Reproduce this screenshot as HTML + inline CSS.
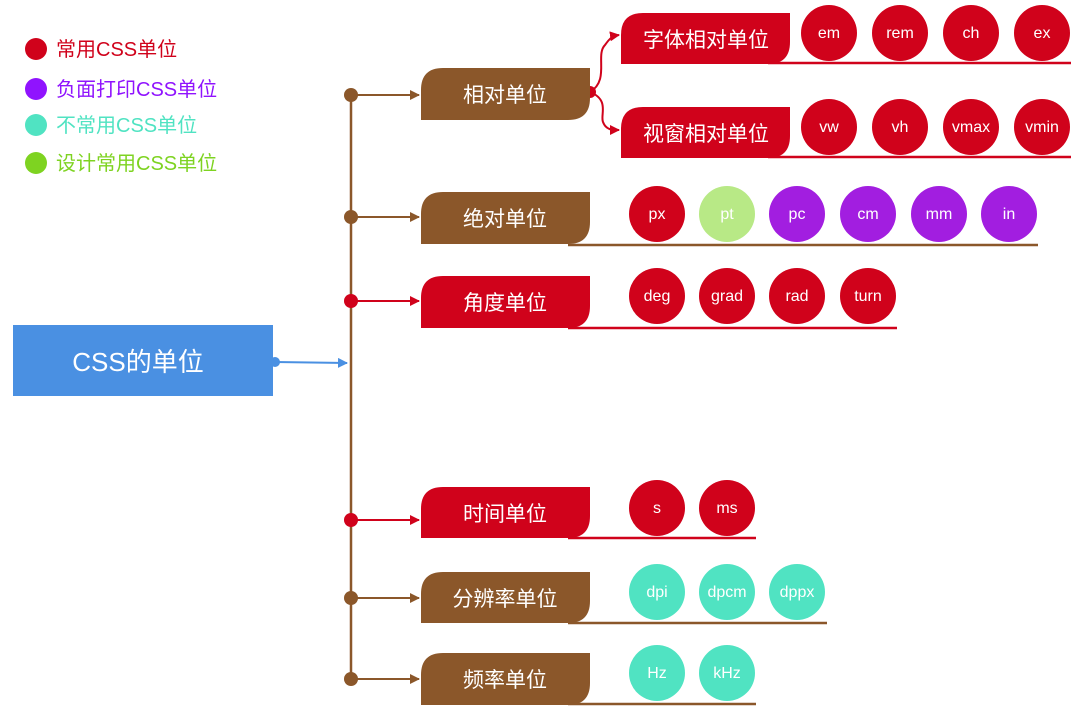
<!DOCTYPE html>
<html><head><meta charset="utf-8"><style>
body{margin:0;background:#fff}
text{font-family:"Liberation Sans","Noto Sans CJK SC",sans-serif}
</style></head><body>
<svg width="1080" height="720" viewBox="0 0 1080 720" xmlns="http://www.w3.org/2000/svg">
<defs>
<marker id="ab" markerWidth="10" markerHeight="10" refX="9" refY="5" orient="auto" markerUnits="userSpaceOnUse"><path d="M0,0 L10,5 L0,10Z" fill="#8b572a"/></marker>
<marker id="ar" markerWidth="10" markerHeight="10" refX="9" refY="5" orient="auto" markerUnits="userSpaceOnUse"><path d="M0,0 L10,5 L0,10Z" fill="#d0021b"/></marker>
<marker id="al" markerWidth="10" markerHeight="10" refX="9" refY="5" orient="auto" markerUnits="userSpaceOnUse"><path d="M0,0 L10,5 L0,10Z" fill="#4a90e2"/></marker>
</defs>
<!-- legend -->
<g font-size="20">
<circle cx="36" cy="49" r="11" fill="#d0021b"/><text x="56" y="56" fill="#d0021b">常用CSS单位</text>
<circle cx="36" cy="89" r="11" fill="#9013fe"/><text x="56" y="96" fill="#9013fe">负面打印CSS单位</text>
<circle cx="36" cy="125" r="11" fill="#50e3c2"/><text x="56" y="132" fill="#50e3c2">不常用CSS单位</text>
<circle cx="36" cy="163" r="11" fill="#7ed321"/><text x="56" y="170" fill="#7ed321">设计常用CSS单位</text>
</g>
<!-- root -->
<rect x="13" y="325" width="260" height="71" fill="#4a90e2"/>
<text x="138" y="371" font-size="26" fill="#fff" text-anchor="middle">CSS的单位</text>
<circle cx="275" cy="362" r="5" fill="#4a90e2"/>
<line x1="275" y1="362" x2="347" y2="363" stroke="#4a90e2" stroke-width="2" marker-end="url(#al)"/>
<!-- trunk -->
<line x1="351" y1="95" x2="351" y2="680" stroke="#8b572a" stroke-width="2.5"/>
<g stroke-width="2">
<line x1="351" y1="95" x2="419" y2="95" stroke="#8b572a" marker-end="url(#ab)"/>
<line x1="351" y1="217" x2="419" y2="217" stroke="#8b572a" marker-end="url(#ab)"/>
<line x1="351" y1="301" x2="419" y2="301" stroke="#d0021b" marker-end="url(#ar)"/>
<line x1="351" y1="520" x2="419" y2="520" stroke="#d0021b" marker-end="url(#ar)"/>
<line x1="351" y1="598" x2="419" y2="598" stroke="#8b572a" marker-end="url(#ab)"/>
<line x1="351" y1="679" x2="419" y2="679" stroke="#8b572a" marker-end="url(#ab)"/>
</g>
<circle cx="351" cy="95" r="7" fill="#8b572a"/>
<circle cx="351" cy="217" r="7" fill="#8b572a"/>
<circle cx="351" cy="301" r="7" fill="#d0021b"/>
<circle cx="351" cy="520" r="7" fill="#d0021b"/>
<circle cx="351" cy="598" r="7" fill="#8b572a"/>
<circle cx="351" cy="679" r="7" fill="#8b572a"/>
<!-- wavy connectors -->
<circle cx="590" cy="92" r="6" fill="#d0021b"/>
<path d="M590,92 C610,80 595,55 605,45 C610,38 612,36 619,35" fill="none" stroke="#d0021b" stroke-width="2" marker-end="url(#ar)"/>
<path d="M590,92 C610,100 600,115 603,122 C606,130 612,130 619,130" fill="none" stroke="#d0021b" stroke-width="2" marker-end="url(#ar)"/>
<!-- level boxes -->
<g font-size="21" fill="#fff" text-anchor="middle">
<path d="M443,68 H590 V98 Q590,120 568,120 H421 V90 Q421,68 443,68Z" fill="#8b572a"/><text x="505" y="102">相对单位</text>
<path d="M443,192 H590 V222 Q590,244 568,244 H421 V214 Q421,192 443,192Z" fill="#8b572a"/><text x="505" y="226">绝对单位</text>
<path d="M443,276 H590 V306 Q590,328 568,328 H421 V298 Q421,276 443,276Z" fill="#d0021b"/><text x="505" y="310">角度单位</text>
<path d="M443,487 H590 V516 Q590,538 568,538 H421 V509 Q421,487 443,487Z" fill="#d0021b"/><text x="505" y="521">时间单位</text>
<path d="M443,572 H590 V601 Q590,623 568,623 H421 V594 Q421,572 443,572Z" fill="#8b572a"/><text x="505" y="606">分辨率单位</text>
<path d="M443,653 H590 V683 Q590,705 568,705 H421 V675 Q421,653 443,653Z" fill="#8b572a"/><text x="505" y="687">频率单位</text>
<path d="M643,13 H790 V42 Q790,64 768,64 H621 V35 Q621,13 643,13Z" fill="#d0021b"/><text x="706" y="47">字体相对单位</text>
<path d="M643,107 H790 V136 Q790,158 768,158 H621 V129 Q621,107 643,107Z" fill="#d0021b"/><text x="706" y="141">视窗相对单位</text>
</g>
<!-- underlines -->
<g stroke-width="2.5">
<line x1="568" y1="245" x2="1038" y2="245" stroke="#8b572a"/>
<line x1="568" y1="328" x2="897" y2="328" stroke="#d0021b"/>
<line x1="568" y1="538" x2="756" y2="538" stroke="#d0021b"/>
<line x1="568" y1="623" x2="827" y2="623" stroke="#8b572a"/>
<line x1="568" y1="704" x2="756" y2="704" stroke="#8b572a"/>
<line x1="768" y1="63" x2="1071" y2="63" stroke="#d0021b"/>
<line x1="768" y1="157" x2="1071" y2="157" stroke="#d0021b"/>
</g>
<!-- circles -->
<g font-size="16" fill="#fff" text-anchor="middle">
<circle cx="829" cy="33" r="28" fill="#d0021b"/><text x="829" y="38">em</text>
<circle cx="900" cy="33" r="28" fill="#d0021b"/><text x="900" y="38">rem</text>
<circle cx="971" cy="33" r="28" fill="#d0021b"/><text x="971" y="38">ch</text>
<circle cx="1042" cy="33" r="28" fill="#d0021b"/><text x="1042" y="38">ex</text>
<circle cx="829" cy="127" r="28" fill="#d0021b"/><text x="829" y="132">vw</text>
<circle cx="900" cy="127" r="28" fill="#d0021b"/><text x="900" y="132">vh</text>
<circle cx="971" cy="127" r="28" fill="#d0021b"/><text x="971" y="132">vmax</text>
<circle cx="1042" cy="127" r="28" fill="#d0021b"/><text x="1042" y="132">vmin</text>
<circle cx="657" cy="214" r="28" fill="#d0021b"/><text x="657" y="219">px</text>
<circle cx="727" cy="214" r="28" fill="#b8e986"/><text x="727" y="219">pt</text>
<circle cx="797" cy="214" r="28" fill="#a21ee0"/><text x="797" y="219">pc</text>
<circle cx="868" cy="214" r="28" fill="#a21ee0"/><text x="868" y="219">cm</text>
<circle cx="939" cy="214" r="28" fill="#a21ee0"/><text x="939" y="219">mm</text>
<circle cx="1009" cy="214" r="28" fill="#a21ee0"/><text x="1009" y="219">in</text>
<circle cx="657" cy="296" r="28" fill="#d0021b"/><text x="657" y="301">deg</text>
<circle cx="727" cy="296" r="28" fill="#d0021b"/><text x="727" y="301">grad</text>
<circle cx="797" cy="296" r="28" fill="#d0021b"/><text x="797" y="301">rad</text>
<circle cx="868" cy="296" r="28" fill="#d0021b"/><text x="868" y="301">turn</text>
<circle cx="657" cy="508" r="28" fill="#d0021b"/><text x="657" y="513">s</text>
<circle cx="727" cy="508" r="28" fill="#d0021b"/><text x="727" y="513">ms</text>
<circle cx="657" cy="592" r="28" fill="#50e3c2"/><text x="657" y="597">dpi</text>
<circle cx="727" cy="592" r="28" fill="#50e3c2"/><text x="727" y="597">dpcm</text>
<circle cx="797" cy="592" r="28" fill="#50e3c2"/><text x="797" y="597">dppx</text>
<circle cx="657" cy="673" r="28" fill="#50e3c2"/><text x="657" y="678">Hz</text>
<circle cx="727" cy="673" r="28" fill="#50e3c2"/><text x="727" y="678">kHz</text>
</g>
</svg>
</body></html>
